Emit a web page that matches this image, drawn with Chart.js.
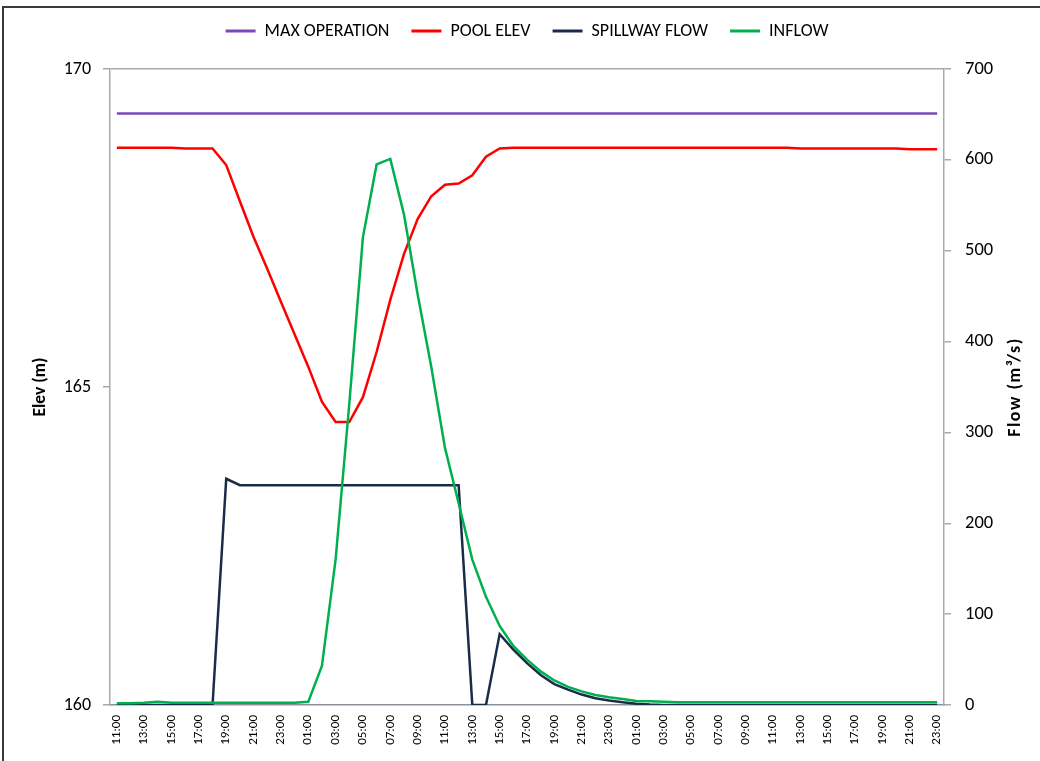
<!DOCTYPE html>
<html>
<head>
<meta charset="utf-8">
<title>Reservoir operation</title>
<script src="https://cdn.jsdelivr.net/npm/chart.js@4.4.1/dist/chart.umd.min.js"></script>
<style>
  html, body { margin: 0; padding: 0; background: #ffffff; }
  #wrap { position: relative; width: 1040px; height: 761px; overflow: hidden; }
  #frame { position: absolute; left: 2px; top: 6px; width: 1100px; height: 820px;
           border: 2px solid #3a3a3a; box-sizing: border-box; pointer-events: none; }
  canvas { position: absolute; left: 0; top: 0; }
</style>
</head>
<body>
<div id="wrap">
  <canvas id="chart" width="1040" height="761"></canvas>
  <div id="frame"></div>
</div>
<script>
// Hourly time steps, 11:00 on day 1 through 23:00 on day 3
const hours = [
  '11:00','12:00','13:00','14:00','15:00','16:00','17:00','18:00','19:00','20:00','21:00','22:00','23:00',
  '00:00','01:00','02:00','03:00','04:00','05:00','06:00','07:00','08:00','09:00','10:00','11:00','12:00',
  '13:00','14:00','15:00','16:00','17:00','18:00','19:00','20:00','21:00','22:00','23:00',
  '00:00','01:00','02:00','03:00','04:00','05:00','06:00','07:00','08:00','09:00','10:00','11:00','12:00',
  '13:00','14:00','15:00','16:00','17:00','18:00','19:00','20:00','21:00','22:00','23:00'
];

// Maximum operating level (m)
const maxOperationLevel = 169.3;

// Reservoir pool elevation (m)
const poolElev = [
  168.76, 168.76, 168.76, 168.76, 168.76, 168.75, 168.75, 168.75,
  168.49, 167.92, 167.36, 166.86, 166.34, 165.83, 165.32, 164.77, 164.45, 164.45,
  164.84, 165.55, 166.37, 167.09, 167.64, 168.00, 168.18, 168.20, 168.33, 168.62, 168.75,
  168.76, 168.76, 168.76, 168.76, 168.76, 168.76, 168.76, 168.76, 168.76, 168.76,
  168.76, 168.76, 168.76, 168.76, 168.76, 168.76, 168.76, 168.76, 168.76, 168.76, 168.76,
  168.75, 168.75, 168.75, 168.75, 168.75, 168.75, 168.75, 168.75,
  168.74, 168.74, 168.74
];

// Spillway discharge (m³/s)
const spillwayFlow = [
  0, 0, 0, 0, 0, 0, 0, 0,
  249, 242, 242, 242, 242, 242, 242, 242, 242, 242, 242, 242, 242, 242, 242, 242, 242, 242,
  0, 0, 78, 61, 46, 33, 23, 17, 11.5, 7.5, 5, 3, 1.5, 0.5,
  0, 0, 0, 0, 0, 0, 0, 0, 0, 0, 0, 0, 0, 0, 0, 0, 0, 0, 0, 0, 0
];

// Reservoir inflow (m³/s)
const inflow = [
  2, 2, 2.5, 3.5, 2.5, 2.5, 2.5, 2.5, 2.5, 2.5, 2.5, 2.5, 2.5, 2.5, 3.5,
  43, 160, 331, 515, 595, 601, 540, 452, 372, 283, 222, 160, 119, 87, 65,
  50, 37, 27, 20, 15, 11, 8.5, 6.5, 4.5, 4, 3.5,
  3, 3, 3, 3, 3, 3, 3, 3, 3, 3, 3, 3, 3, 3, 3, 3, 3, 3, 3, 3
];

// Axis tick settings
const elevTicks = { min: 160, max: 170, step: 5 };
const flowTicks = { min: 0, max: 700, step: 100 };

const FONT = 'Carlito, Calibri, Lato, "Liberation Sans", sans-serif';
const AXIS_GREY = '#a4aab2';

Chart.defaults.font.family = FONT;
Chart.defaults.color = '#000000';

// Empty strip between the legend row and the plot area
const legendSpacer = {
  id: 'legendSpacer',
  beforeInit(chart) {
    Chart.layouts.addBox(chart, {
      position: 'top', weight: 10, fullSize: true, options: {},
      left: 0, top: 0, right: 0, bottom: 0, width: 0, height: 0,
      isHorizontal() { return true; },
      update(maxWidth) { this.width = maxWidth; this.height = 19; },
      draw() {}
    });
  }
};

// Right-hand axis title, reading bottom to top like the left one
const flowAxisTitle = {
  id: 'flowAxisTitle',
  afterDraw(chart) {
    const s = chart.scales.yFlow;
    const ctx = chart.ctx;
    ctx.save();
    ctx.translate(s.right - 25, (s.top + s.bottom) / 2);
    ctx.rotate(-Math.PI / 2);
    ctx.font = 'bold 18px ' + FONT;
    ctx.letterSpacing = '1.5px';
    ctx.fillStyle = '#000000';
    ctx.textAlign = 'center';
    ctx.textBaseline = 'middle';
    ctx.fillText('Flow (m³/s)', 0, 0);
    ctx.restore();
  }
};

new Chart(document.getElementById('chart'), {
  type: 'line',
  data: {
    labels: hours,
    datasets: [
      { label: 'MAX OPERATION', data: hours.map(() => maxOperationLevel), yAxisID: 'yElev',
        borderColor: '#7b48b8', backgroundColor: '#7b48b8', order: 4 },
      { label: 'POOL ELEV', data: poolElev, yAxisID: 'yElev',
        borderColor: '#ff0000', backgroundColor: '#ff0000', order: 3 },
      { label: 'SPILLWAY FLOW', data: spillwayFlow, yAxisID: 'yFlow',
        borderColor: '#1b2c48', backgroundColor: '#1b2c48', order: 2 },
      { label: 'INFLOW', data: inflow, yAxisID: 'yFlow',
        borderColor: '#00b050', backgroundColor: '#00b050', order: 1 }
    ]
  },
  options: {
    responsive: false,
    animation: false,
    devicePixelRatio: 1,
    layout: { padding: { top: 0, left: 0, right: 0, bottom: 0 } },
    elements: {
      line: { borderWidth: 2.5, tension: 0, fill: false },
      point: { radius: 0, hoverRadius: 0 }
    },
    plugins: {
      tooltip: { enabled: false },
      legend: {
        position: 'top',
        fullSize: false,
        labels: {
          usePointStyle: true,
          pointStyle: 'line',
          pointStyleWidth: 30,
          padding: 22,
          color: '#000000',
          font: { size: 18 },
          generateLabels(chart) {
            return chart.data.datasets.map((ds, i) => ({
              text: ds.label,
              strokeStyle: ds.borderColor,
              fillStyle: ds.borderColor,
              lineWidth: 3,
              pointStyle: 'line',
              hidden: false,
              datasetIndex: i,
              fontColor: '#000000'
            }));
          }
        }
      }
    },
    scales: {
      x: {
        type: 'category',
        offset: true,
        grid: { display: false, drawTicks: false },
        border: { display: true, color: '#8a919b', width: 1.5 },
        ticks: {
          autoSkip: false, minRotation: 90, maxRotation: 90, padding: 10,
          font: { size: 13 }, color: '#000000',
          callback(value, index) { return index % 2 === 0 ? this.getLabelForValue(value) : ''; }
        },
        afterFit(s) { s.height = 56; }
      },
      yElev: {
        type: 'linear', position: 'left',
        min: elevTicks.min, max: elevTicks.max,
        grid: {
          display: true, drawOnChartArea: true, drawTicks: true, tickLength: 7,
          color: ctx => (ctx.tick && ctx.tick.value === elevTicks.max ? AXIS_GREY : 'rgba(0,0,0,0)'),
          tickColor: AXIS_GREY, lineWidth: 1.5
        },
        border: { display: true, color: AXIS_GREY, width: 1.5 },
        ticks: { stepSize: elevTicks.step, padding: 12, font: { size: 18 }, color: '#000000' },
        title: { display: true, text: 'Elev (m)', font: { size: 17.5, weight: 'bold' },
                 color: '#000000', padding: { top: 30, bottom: 0 } },
        afterFit(s) { s.width = 110; }
      },
      yFlow: {
        type: 'linear', position: 'right',
        min: flowTicks.min, max: flowTicks.max,
        grid: { display: true, drawOnChartArea: false, drawTicks: true, tickLength: 7,
                tickColor: AXIS_GREY, lineWidth: 1.5 },
        border: { display: true, color: AXIS_GREY, width: 1.5 },
        ticks: { stepSize: flowTicks.step, padding: 14, font: { size: 18.5 }, color: '#000000' },
        afterFit(s) { s.width = 96; }
      }
    }
  },
  plugins: [legendSpacer, flowAxisTitle]
});
</script>
</body>
</html>
